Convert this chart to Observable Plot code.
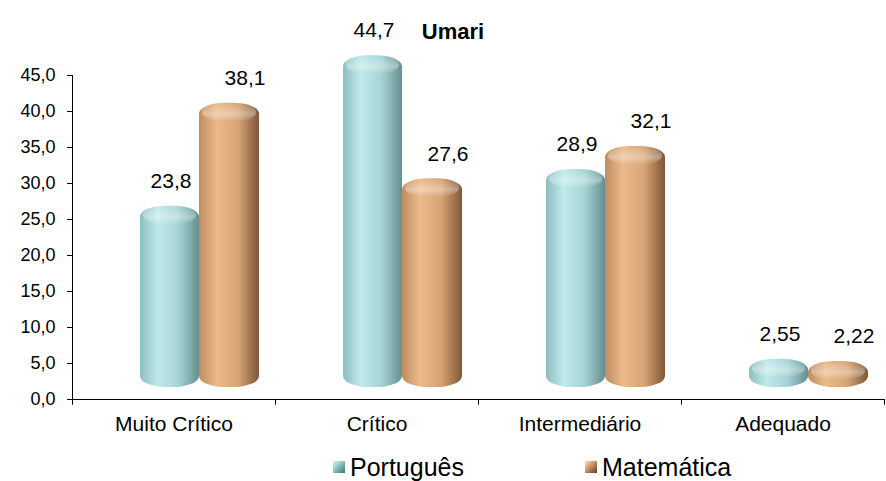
<!DOCTYPE html>
<html>
<head>
<meta charset="utf-8">
<script src="https://cdn.jsdelivr.net/npm/d3@7"></script>
<script src="https://cdn.jsdelivr.net/npm/@observablehq/plot@0.6"></script>
<style>
  body { margin: 0; background: #fff; font-family: "Liberation Sans", Arial, sans-serif; }
  #wrap { position: relative; width: 886px; height: 481px; }
  #title { position: absolute; left: 10px; width: 886px; top: 19px; text-align: center;
           font-weight: bold; font-size: 22px; line-height: 25px; color: #000; }
  #legend { position: relative; width: 886px; height: 36px; font-size: 25px; color: #000; }
  .lg-item { position: absolute; top: 8px; line-height: 28px; white-space: nowrap; }
  .lg-sw { position: absolute; width: 12px; height: 12px; top: 16px; }
</style>
</head>
<body>
<div id="wrap">
  <div id="chart"></div>
  <div id="title">Umari</div>
  <div id="legend"></div>
</div>
<script>
// ---- data ----
const categories = ["Muito Crítico", "Crítico", "Intermediário", "Adequado"];
const series = ["Português", "Matemática"];
const portugues = [23.8, 44.7, 28.9, 2.55];
const matematica = [38.1, 27.6, 32.1, 2.22];
const yTicks = [0, 5, 10, 15, 20, 25, 30, 35, 40, 45];

// ---- layout ----
const W = 886, H = 445, ML = 72, MR = 2, MT = 75, MB = 46;
const bw = (W - ML - MR) / categories.length;

const ptData = categories.map((c, i) => ({cat: c, series: series[0], value: portugues[i]}));
const maData = categories.map((c, i) => ({cat: c, series: series[1], value: matematica[i]}));

const fmtTick = d => d.toFixed(1).replace(".", ",");
const fmtVal = d => String(d).replace(".", ",");

const barStyle = (insL, insR, grad) => ({
  x: "cat", y1: () => 0, y2: "value", fill: grad,
  insetLeft: insL, insetRight: insR, insetTop: -10, dy: -12, rx: 26, ry: 11
});
const capStyle = (insL, insR) => ({
  x: "cat", y1: "value", y2: "value", fill: "url(#gCap)",
  insetLeft: insL + 3, insetRight: insR + 3, insetTop: -10, insetBottom: -9, dy: -12, rx: 24, ry: 9
});

const chart = Plot.plot({
  width: W, height: H,
  marginLeft: ML, marginRight: MR, marginTop: MT, marginBottom: MB,
  style: { fontFamily: "'Liberation Sans', Arial, sans-serif", color: "#000", background: "#fff" },
  x: { domain: categories, padding: 0 },
  y: { domain: [0, 45] },
  marks: [
    Plot.barY(ptData, barStyle(68, 76, "url(#gPT)")),
    Plot.barY(ptData, capStyle(68, 76)),
    Plot.barY(maData, barStyle(127, 16, "url(#gMA)")),
    Plot.barY(maData, capStyle(127, 16)),
    Plot.ruleY([0], { stroke: "#000" }),
    Plot.ruleX([categories[0]], { x: d => d, y1: -0.8, y2: 45, dx: -bw / 2, stroke: "#000" }),
    Plot.ruleX(categories, { x: d => d, y1: 0, y2: -0.8, dx: bw / 2, stroke: "#000" }),
    Plot.axisY({ ticks: yTicks, tickSize: 5, tickPadding: 12, tickFormat: fmtTick, fontSize: 18, label: null }),
    Plot.axisX({ tickSize: 0, tickPadding: 17, fontSize: 21, label: null }),
    Plot.text(ptData, { x: "cat", y: "value", text: d => fmtVal(d.value), dx: -3, dy: -47, fontSize: 21, fill: "#000" }),
    Plot.text(maData, { x: "cat", y: "value", text: d => fmtVal(d.value), dx: 71, dy: -47, fontSize: 21, fill: "#000" })
  ]
});

d3.select(chart).insert("defs", ":first-child").html(`
  <linearGradient id="gPT" x1="0" x2="1" y1="0" y2="0">
    <stop offset="0" stop-color="#8cbfc1"/>
    <stop offset="0.3" stop-color="#bfe9eb"/>
    <stop offset="0.65" stop-color="#a6d4d6"/>
    <stop offset="1" stop-color="#658f91"/>
  </linearGradient>
  <linearGradient id="gMA" x1="0" x2="1" y1="0" y2="0">
    <stop offset="0" stop-color="#c08c60"/>
    <stop offset="0.3" stop-color="#ebba8a"/>
    <stop offset="0.65" stop-color="#d7a575"/>
    <stop offset="1" stop-color="#7f5637"/>
  </linearGradient>
  <linearGradient id="gCap" x1="0" x2="0" y1="0" y2="1">
    <stop offset="0" stop-color="#fff" stop-opacity="0"/>
    <stop offset="0.6" stop-color="#fff" stop-opacity="0.35"/>
    <stop offset="1" stop-color="#fff" stop-opacity="0"/>
  </linearGradient>
`);
document.getElementById("chart").appendChild(chart);

// legend
const legend = d3.select("#legend");
const swatches = [
  {label: series[0], sw: 333, tx: 350, bg: "linear-gradient(135deg,#dff5f6 0%,#8cc3c5 45%,#3f6e70 100%)"},
  {label: series[1], sw: 585, tx: 602, bg: "linear-gradient(135deg,#fbe3c6 0%,#c9955f 45%,#5e3b20 100%)"}
];
swatches.forEach(s => {
  legend.append("div").attr("class", "lg-sw").style("left", s.sw + "px").style("background", s.bg);
  legend.append("div").attr("class", "lg-item").style("left", s.tx + "px").text(s.label);
});
</script>
</body>
</html>
